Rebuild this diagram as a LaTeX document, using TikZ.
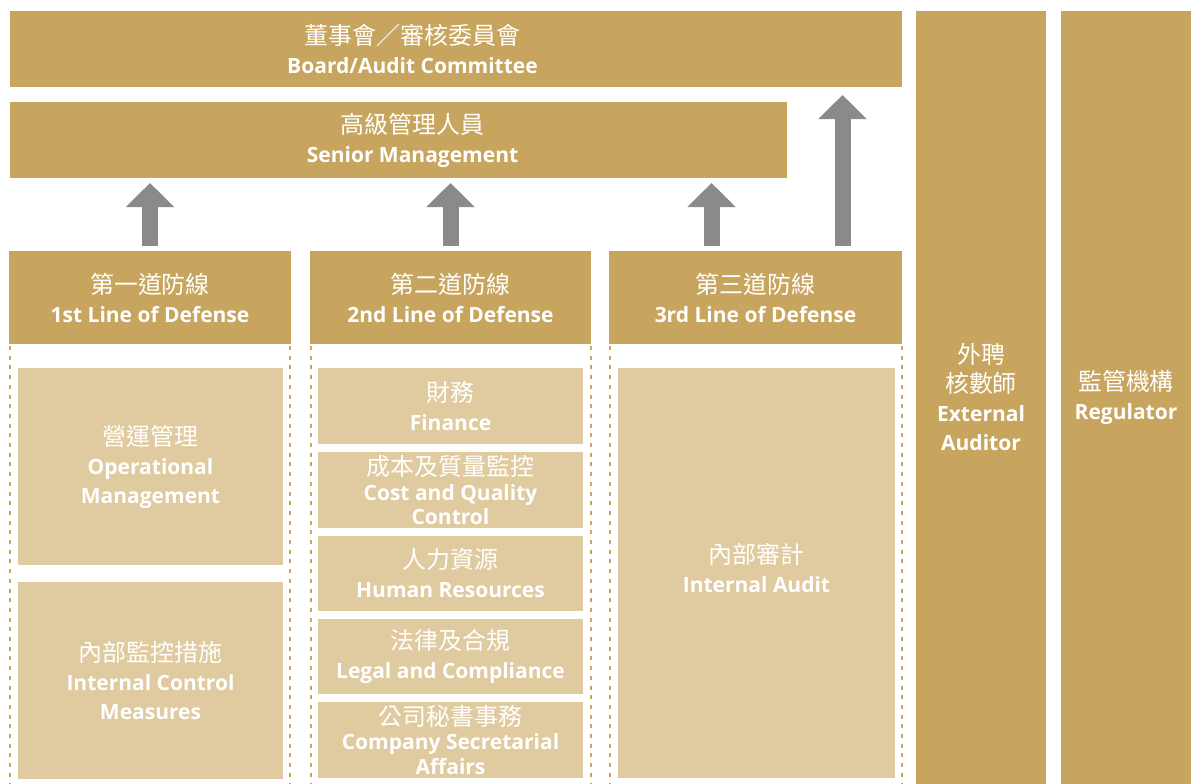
\documentclass[tikz,border=0pt]{standalone}
\usepackage{fontspec}
\setmainfont{Open Sans}
\newfontfamily\cjk[Scale=1.14]{Noto Sans CJK TC}
\usetikzlibrary{arrows.meta}
\definecolor{gold}{HTML}{C8A55E}
\definecolor{sand}{HTML}{E0CBA0}
\definecolor{arrowgray}{HTML}{8A8A8A}
\begin{document}
\begin{tikzpicture}[x=1pt, y=-1pt,
	box/.style={fill=gold, text=white, inner sep=0pt, outer sep=0pt, align=center, font=\fontsize{21}{29}\selectfont},
	sub/.style={box, fill=sand},
	lbl/.style={box, fill=none},
	tight/.style={font=\fontsize{21}{24.5}\selectfont},
	uparrow/.style={draw=arrowgray, line width=16pt, -{Triangle[width=47pt, length=24pt]}, shorten <=5pt, shorten >=5pt},
	dashline/.style={draw=gold, line width=2.5pt, dash pattern=on 4pt off 5.7pt}]
			\useasboundingbox (0,0) rectangle (1191,784);
			\coordinate (mid) at (412.5,0);
			\node[box, minimum width=892, minimum height=76] (board) at (456,49) {};
			\node[lbl] (boardtext) at (board.center -| mid) {{\cjk 董事會／審核委員會}\\\textbf{Board/Audit Committee}};
			\node[box, minimum width=777, minimum height=76] (senior) at (398.5,140) {};
			\node[lbl] (seniortext) at (senior.center -| mid) {{\cjk 高級管理人員}\\\textbf{Senior Management}};
			\node[box, minimum width=130, minimum height=773] (ext) at (981,397.5) {{\cjk 外聘}\\{\cjk 核數師}\\\textbf{External}\\\textbf{Auditor}};
			\node[box, minimum width=130, minimum height=773] (reg) at (1126,397.5) {{\cjk 監管機構}\\\textbf{Regulator}};
			\node[box, minimum width=282, minimum height=93] (line1) at (150,297.5) {{\cjk 第一道防線}\\\textbf{1st Line of Defense}};
			\node[box, minimum width=281, minimum height=93] (line2) at (450.5,297.5) {{\cjk 第二道防線}\\\textbf{2nd Line of Defense}};
			\node[box, minimum width=293, minimum height=93] (line3) at (755.5,297.5) {{\cjk 第三道防線}\\\textbf{3rd Line of Defense}};
			% dashed column edges
			\foreach \x in {10,290,311,591,610,902}
				\draw[dashline] (\x,346) -- (\x,784);
			\node[sub, minimum width=265, minimum height=197] (ops) at (150.5,466.5) {{\cjk 營運管理}\\\textbf{Operational}\\\textbf{Management}};
			\node[sub, minimum width=265, minimum height=197] (icm) at (150.5,680.5) {{\cjk 內部監控措施}\\\textbf{Internal Control}\\\textbf{Measures}};
			\node[sub, minimum width=265, minimum height=76] (fin) at (450.5,406) {{\cjk 財務}\\\textbf{Finance}};
			\node[sub, tight, minimum width=265, minimum height=76] (cost) at (450.5,490) {{\cjk 成本及質量監控}\\\textbf{Cost and Quality}\\\textbf{Control}};
			\node[sub, minimum width=265, minimum height=75] (hr) at (450.5,573.5) {{\cjk 人力資源}\\\textbf{Human Resources}};
			\node[sub, minimum width=265, minimum height=75] (legal) at (450.5,656.5) {{\cjk 法律及合規}\\\textbf{Legal and Compliance}};
			\node[sub, tight, minimum width=265, minimum height=76] (sec) at (450.5,740) {{\cjk 公司秘書事務}\\\textbf{Company Secretarial}\\\textbf{Affairs}};
			\node[sub, minimum width=277, minimum height=410] (audit) at (756.5,573) {{\cjk 內部審計}\\\textbf{Internal Audit}\\[-19pt]\mbox{}};
			\coordinate (a3) at (711.5,0);
			\coordinate (a4) at (842.5,0);
			\draw[uparrow] (line1.north) -- (line1.north |- senior.south);
			\draw[uparrow] (line2.north) -- (line2.north |- senior.south);
			\draw[uparrow] (line3.north -| a3) -- (senior.south -| a3);
			\draw[uparrow, shorten >=8pt] (line3.north -| a4) -- (board.south -| a4);
		\end{tikzpicture}
\end{document}
